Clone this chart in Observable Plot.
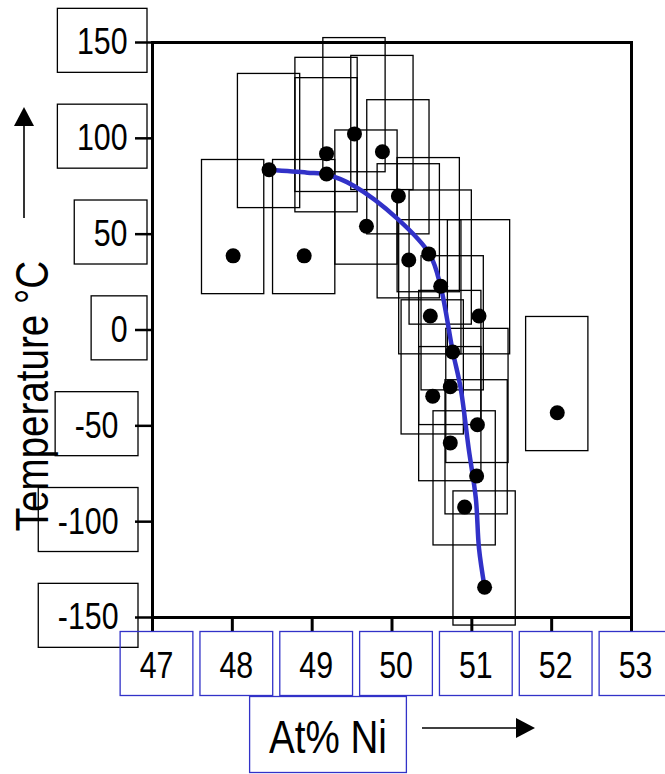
<!DOCTYPE html>
<html>
<head>
<meta charset="utf-8">
<script src="https://cdn.jsdelivr.net/npm/d3@7"></script>
<script src="https://cdn.jsdelivr.net/npm/@observablehq/plot@0.6"></script>
<style>
  html, body { margin: 0; padding: 0; background: #fff; }
  #chart svg { display: block; }
</style>
</head>
<body>
<div id="chart"></div>
<script>
// ---- data ----
const atNi  = [48.01, 48.90, 48.46, 49.18, 49.18, 49.53, 49.88, 49.68, 50.08, 50.21, 50.46, 50.61,
               50.48, 51.09, 50.76, 50.73, 50.51, 51.07, 50.73, 51.06, 50.91, 51.16, 52.07];
const tempC = [38.7, 38.7, 83.6, 92.0, 81.4, 102.3, 93.0, 54.1, 69.9, 36.5, 39.7, 22.8,
               7.3, 7.3, -11.5, -29.6, -34.5, -49.4, -58.9, -76.2, -92.4, -134.2, -43.2];
const boxLow  = 20;   // box extends this far below each point (°C)
const boxHigh = 50;   // and this far above (°C)
const boxHalfWidth = 0.39; // at% Ni

const fitNi = [48.46, 48.94, 49.19, 49.52, 50.07, 50.47, 50.61, 50.76, 50.86, 50.96, 51.05, 51.09, 51.16];
const fitT  = [83.6, 82.1, 81.0, 75.3, 58.0, 39.7, 22.5, -11.0, -30.3, -61.7, -87.8, -114.0, -134.2];

const xTicks = [47, 48, 49, 50, 51, 52, 53];
const yTicks = [150, 100, 50, 0, -50, -100, -150];
const xTitle = "At% Ni";
const yTitle = "Temperature °C";

const points = atNi.map((x, i) => ({x, y: tempC[i]}));
const fit = fitNi.map((x, i) => ({x, y: fitT[i]}));

const FONT = '"Liberation Sans Narrow", "Liberation Sans", Arial, sans-serif';
const BLUE = "#3232c8";

const chart = Plot.plot({
  width: 665,
  height: 774,
  marginLeft: 152,
  marginRight: 34,
  marginTop: 42,
  marginBottom: 157,
  x: {domain: [47, 53], axis: null},
  y: {domain: [-150, 150], axis: null},
  style: {fontFamily: FONT, background: "#fff", color: "#000"},
  marks: [
    Plot.rect(points, {
      x1: d => d.x - boxHalfWidth, x2: d => d.x + boxHalfWidth,
      y1: d => d.y - boxLow, y2: d => d.y + boxHigh,
      fill: "none", stroke: "#000", strokeWidth: 1.3
    }),
    Plot.line(fit, {x: "x", y: "y", stroke: BLUE, strokeWidth: 4.5, curve: "catmull-rom"}),
    Plot.dot(points, {x: "x", y: "y", r: 7.5, fill: "#000"}),
    Plot.frame({stroke: "#000", strokeWidth: 3}),
    Plot.axisX({ticks: xTicks, tickSize: 15, strokeWidth: 3, tickFormat: () => "", label: null}),
    Plot.axisY({ticks: yTicks, tickSize: 17, strokeWidth: 2.5, tickFormat: () => "", label: null}),
    // y tick labels (non-negative and negative have slightly different offsets in the original)
    Plot.text(yTicks.filter(d => d >= 0), {
      y: d => d, text: d => String(d), frameAnchor: "left", textAnchor: "end",
      dx: -25, fontSize: 37, fill: "#000", ariaDescription: "ylab"
    }),
    Plot.text(yTicks.filter(d => d < 0), {
      y: d => d, text: d => String(d), frameAnchor: "left", textAnchor: "end",
      dx: -34, fontSize: 37, fill: "#000", ariaDescription: "ylab"
    }),
    // x tick labels
    Plot.text(xTicks, {
      x: d => d, text: d => String(d), frameAnchor: "bottom", textAnchor: "middle",
      dx: 4, dy: 60, fontSize: 37, fill: "#000", ariaDescription: "xlab"
    }),
    // x title
    Plot.text([xTitle], {
      text: d => d, frameAnchor: "bottom", textAnchor: "middle", dx: -64, dy: 135,
      fontSize: 47, fill: "#000", ariaDescription: "xtitle"
    }),
    // y title
    Plot.text([yTitle], {
      text: d => d, frameAnchor: "left", textAnchor: "middle", rotate: -90, dx: -120, dy: 66,
      fontSize: 47, fill: "#000", ariaDescription: "ytitle"
    })
  ]
});

document.getElementById("chart").append(chart);

const svg = d3.select(chart);

// narrow the (Arial-metric) glyphs to Arial-Narrow proportions
svg.selectAll("text").each(function() {
  if (!this.textContent) return;
  const w = this.getComputedTextLength();
  if (w > 0) {
    this.setAttribute("textLength", (w * 0.82).toFixed(2));
    this.setAttribute("lengthAdjust", "spacingAndGlyphs");
  }
});

// ---- boxes around tick labels and x title ----
function boxTexts(label, color) {
  svg.selectAll(`g[aria-description="${label}"] text`).each(function() {
    const bb = this.getBBox();
    const padX = 19.5, padTop = 13, padBottom = 10;
    const r = document.createElementNS("http://www.w3.org/2000/svg", "rect");
    r.setAttribute("x", bb.x - padX);
    r.setAttribute("y", bb.y - padTop);
    r.setAttribute("width", bb.width + 2 * padX);
    r.setAttribute("height", bb.height + padTop + padBottom);
    r.setAttribute("fill", "none");
    r.setAttribute("stroke", color);
    r.setAttribute("stroke-width", 1.3);
    const t = this.getAttribute("transform");
    if (t) r.setAttribute("transform", t);
    this.parentNode.insertBefore(r, this);
  });
}
boxTexts("ylab", "#000");
boxTexts("xlab", BLUE);
boxTexts("xtitle", BLUE);

// ---- direction arrows next to the axis titles ----
const arrows = svg.append("g").attr("fill", "#000").attr("stroke", "#000");
arrows.append("line").attr("x1", 24).attr("y1", 218).attr("x2", 24).attr("y2", 124).attr("stroke-width", 1.6);
arrows.append("path").attr("d", "M24,107 L14,126 L34,126 Z").attr("stroke", "none");
arrows.append("line").attr("x1", 422).attr("y1", 728).attr("x2", 518).attr("y2", 728).attr("stroke-width", 1.6);
arrows.append("path").attr("d", "M535,728 L516,718 L516,738 Z").attr("stroke", "none");
</script>
</body>
</html>
